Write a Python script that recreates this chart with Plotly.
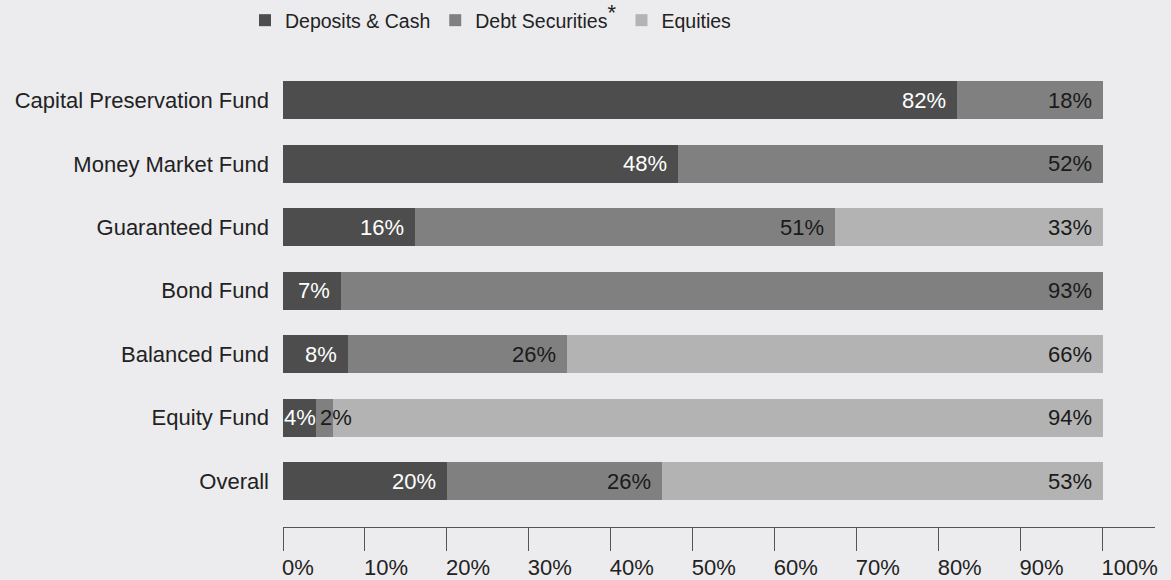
import plotly.graph_objects as go

categories = ["Capital Preservation Fund", "Money Market Fund", "Guaranteed Fund",
              "Bond Fund", "Balanced Fund", "Equity Fund", "Overall"]
series_names = ["Deposits & Cash",
                "Debt Securities<sup><span style='font-size:22px'>*</span></sup>",
                "Equities"]
deposits = [82.2, 48.2, 16.1, 7.1, 7.9, 4.0, 20.0]
debt = [17.8, 51.8, 51.2, 92.9, 26.8, 2.1, 26.2]
equities = [0, 0, 32.7, 0, 65.3, 93.9, 53.8]
deposits_labels = ["82%", "48%", "16%", "7%", "8%", "4%", "20%"]
debt_labels = ["18%", "52%", "51%", "93%", "26%", "2%", "26%"]
equities_labels = ["", "", "33%", "", "66%", "94%", "53%"]
x_ticks = [0, 10, 20, 30, 40, 50, 60, 70, 80, 90, 100]
x_tick_labels = [f"{t}%" for t in x_ticks]

colors = ["#4d4d4d", "#808080", "#b3b3b3"]
text_colors = ["#ffffff", "#1a1a1a", "#1a1a1a"]
FONT = "Liberation Sans, Arial, sans-serif"
FS = 22

W, H = 1171, 580
ML, MR, MT, MB = 283, 16, 56, 53
XMAX = 106.4
px_per_unit = (W - ML - MR) / XMAX

fig = go.Figure()
series = [deposits, debt, equities]
labels = [deposits_labels, debt_labels, equities_labels]
for name, vals, col in zip(series_names, series, colors):
    fig.add_trace(go.Bar(y=categories, x=vals, name=name, orientation="h",
                         marker=dict(color=col, line=dict(width=0)),
                         width=0.6, hoverinfo="skip"))


def text_width(s):
    w = {"%": 0.889}
    return sum(w.get(c, 0.556) for c in s) * FS


annotations = []
for si, (vals, labs) in enumerate(zip(series, labels)):
    for ci, cat in enumerate(categories):
        start = sum(series[k][ci] for k in range(si))
        end = start + vals[ci]
        lab = labs[ci]
        if not lab:
            continue
        seg_px = vals[ci] * px_per_unit
        tw = text_width(lab)
        f = dict(family=FONT, size=FS, color=text_colors[si])
        if seg_px >= tw + 18:
            annotations.append(dict(x=end, y=cat, xref="x", yref="y", text=lab,
                                    showarrow=False, xanchor="right", xshift=-9, font=f))
        elif seg_px >= tw - 4:
            annotations.append(dict(x=start, y=cat, xref="x", yref="y", text=lab,
                                    showarrow=False, xanchor="left", xshift=-1, font=f))
        else:
            annotations.append(dict(x=start, y=cat, xref="x", yref="y", text=lab,
                                    showarrow=False, xanchor="left", xshift=2, font=f))

fig.update_layout(
    barmode="stack",
    width=W, height=H,
    paper_bgcolor="#ececee", plot_bgcolor="#ececee",
    margin=dict(l=ML, r=MR, t=MT, b=MB, autoexpand=False),
    font=dict(family=FONT, size=FS, color="#222222"),
    showlegend=True,
    legend=dict(orientation="h", xref="container", yref="container",
                x=245 / W, y=1 - 1 / H, xanchor="left", yanchor="top",
                font=dict(family=FONT, size=19.5, color="#222222"),
                traceorder="normal", bgcolor="rgba(0,0,0,0)"),
    annotations=annotations,
)
fig.update_xaxes(range=[0, XMAX], tickvals=x_ticks, ticktext=x_tick_labels,
                 showgrid=False, zeroline=False, showline=True, linecolor="#555555",
                 linewidth=1, ticks="outside", ticklen=23, tickcolor="#555555",
                 tickwidth=1, tickfont=dict(family=FONT, size=FS, color="#222222"),
                 ticklabelposition="outside right", ticklabelstandoff=21,
                 ticklabelshift=-2,
                 automargin=False, fixedrange=True)
fig.update_yaxes(categoryorder="array", categoryarray=categories,
                 range=[6.724, -0.7], showgrid=False, zeroline=False, showline=False,
                 ticks="", ticklabelstandoff=13,
                 tickfont=dict(family=FONT, size=FS, color="#222222"),
                 automargin=False, fixedrange=True)

fig.write_html("out.html", config={"displayModeBar": False},
               post_script="document.body.style.margin='0';")
